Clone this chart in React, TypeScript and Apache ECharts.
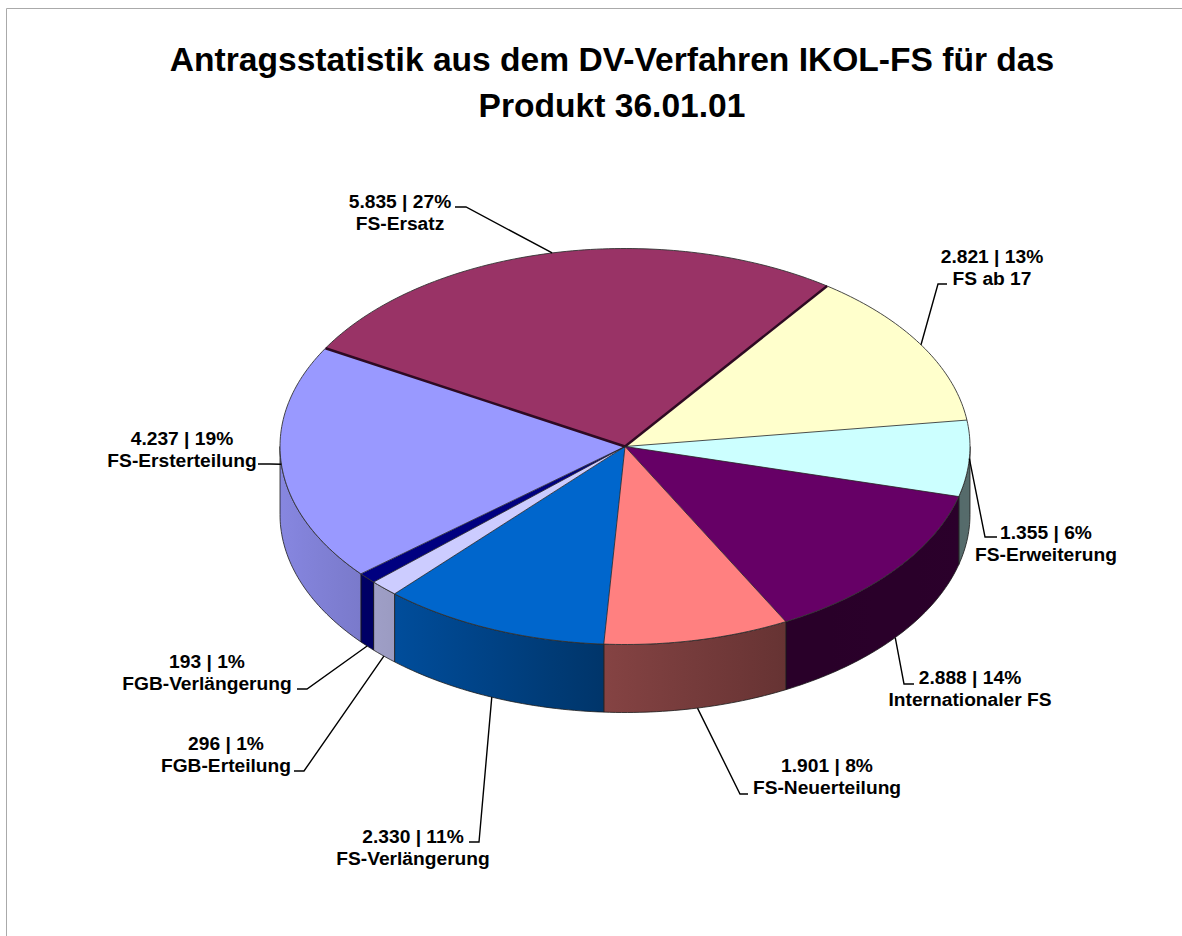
import React, { useEffect, useRef } from "react";
import * as echarts from "echarts";

const titleLines = ["Antragsstatistik aus dem DV-Verfahren IKOL-FS für das", "Produkt 36.01.01"];
const categories = ["FS-Ersatz", "FS ab 17", "FS-Erweiterung", "Internationaler FS", "FS-Neuerteilung", "FS-Verlängerung", "FGB-Erteilung", "FGB-Verlängerung", "FS-Ersterteilung"];
const counts = [5835, 2821, 1355, 2888, 1901, 2330, 296, 193, 4237];
const countLabels = ["5.835", "2.821", "1.355", "2.888", "1.901", "2.330", "296", "193", "4.237"];
const percentLabels = ["27%", "13%", "6%", "14%", "8%", "11%", "1%", "1%", "19%"];

const sliceColors = [[0x99, 0x33, 0x66], [0xff, 0xff, 0xcc], [0xcc, 0xff, 0xff], [0x66, 0x00, 0x66], [0xff, 0x80, 0x80], [0x00, 0x66, 0xcc], [0xcc, 0xcc, 0xff], [0x00, 0x00, 0x80], [0x99, 0x99, 0xff]];
const radialWidths = [2.4, 0.8, 0.8, 0.8, 0.8, 0.8, 0.8, 0.8, 0.8];

// leader elbow [x, y], elbow end [x, y]; label centre [x, y]
const elbows = [[466, 207, 455, 207], [938, 284, 947, 284], [985, 537, 997, 537], [904, 684, 914, 684], [740, 794, 748, 794], [479, 842, 469, 842], [304, 771, 294, 771], [307, 689, 297, 689], [270, 464, 258, 464]];
const labelCentres = [[400, 212], [992, 267], [1046, 543], [970, 688], [827, 776], [413, 847], [226, 754], [207, 672], [182, 449]];

const CX = 625, CY = 446.5, RX = 345, RY = 198, DEPTH = 68, START = -60.25;
const total = counts.reduce((a, b) => a + b, 0);
const rad = (d: number) => (d * Math.PI) / 180;
const pt = (deg: number, dy = 0) => [CX + RX * Math.sin(rad(deg)), CY - RY * Math.cos(rad(deg)) + dy];

function sliceRange(i: number) {
  let sum = 0;
  for (let k = 0; k < i; k++) sum += counts[k];
  return [START + (sum / total) * 360, START + ((sum + counts[i]) / total) * 360];
}
function arc(a0: number, a1: number, dy = 0) {
  const pts: number[][] = [];
  const n = Math.max(2, Math.ceil(Math.abs(a1 - a0)));
  for (let k = 0; k <= n; k++) pts.push(pt(a0 + ((a1 - a0) * k) / n, dy));
  return pts;
}
const shadeStops = [[280, 0.88], [393, 0.76], [605, 0.52], [785, 0.4], [970, 0.42]];
function shade(x: number) {
  for (let k = 1; k < shadeStops.length; k++) {
    if (x <= shadeStops[k][0]) {
      const [x0, s0] = shadeStops[k - 1], [x1, s1] = shadeStops[k];
      return s0 + ((s1 - s0) * Math.max(0, x - x0)) / (x1 - x0);
    }
  }
  return shadeStops[shadeStops.length - 1][1];
}

const FONT = '"Liberation Sans", Arial, sans-serif';

export default function App() {
  const ref = useRef<HTMLDivElement>(null);
  useEffect(() => {
    const chart = echarts.init(ref.current!, undefined, { renderer: "svg" });
    const data = counts.map((v, i) => [v, i]);
    chart.setOption({
      animation: false,
      backgroundColor: "#ffffff",
      title: {
        text: titleLines.join("\n"),
        left: 607,
        top: 31,
        textAlign: "center",
        textStyle: { fontFamily: FONT, fontSize: 33.6, fontWeight: "bold", color: "#000", lineHeight: 46 },
      },
      graphic: [
        { type: "polyline", silent: true, shape: { points: [[6.5, 936], [6.5, 8.5], [1182, 8.5]] }, style: { fill: "none", stroke: "#aaaaaa", lineWidth: 1 } },
      ],
      series: [
        {
          type: "custom", coordinateSystem: "none", silent: true, data, z: 2,
          renderItem: (_p: any, api: any) => {
            const i = api.value(1);
            const [a0, a1] = sliceRange(i);
            const s = Math.max(a0, 90), e = Math.min(a1, 270);
            if (e <= s) return { type: "group", children: [] };
            const points = [...arc(s, e), ...arc(e, s, DEPTH)];
            const xs = points.map((p) => p[0]);
            const x0 = Math.min(...xs), x1 = Math.max(...xs);
            const c = sliceColors[i];
            const colorStops = [0, 0.25, 0.5, 0.75, 1].map((o) => {
              const f = shade(x0 + (x1 - x0) * o);
              return { offset: o, color: `rgb(${c.map((v) => Math.round(v * f)).join(",")})` };
            });
            return {
              type: "polygon",
              shape: { points },
              style: { fill: new echarts.graphic.LinearGradient(0, 0, 1, 0, colorStops), stroke: "#1a1a1a", lineWidth: 0.8 },
            };
          },
        },
        {
          type: "custom", coordinateSystem: "none", silent: true, data, z: 3,
          renderItem: (_p: any, api: any) => {
            const i = api.value(1);
            const [a0, a1] = sliceRange(i);
            const c = sliceColors[i];
            return {
              type: "group",
              children: [
                { type: "polygon", shape: { points: [[CX, CY], ...arc(a0, a1)] }, style: { fill: `rgb(${c.join(",")})`, stroke: "none" } },
                { type: "polyline", shape: { points: arc(a0, a1) }, style: { fill: "none", stroke: "#333333", lineWidth: 0.9 } },
              ],
            };
          },
        },
        {
          type: "custom", coordinateSystem: "none", silent: true, data, z: 4,
          renderItem: (_p: any, api: any) => {
            const i = api.value(1);
            const [a0] = sliceRange(i);
            const prev = (i + counts.length - 1) % counts.length;
            const w = Math.max(radialWidths[i], radialWidths[prev]);
            return {
              type: "polyline",
              shape: { points: [[CX, CY], pt(a0)] },
              style: { fill: "none", stroke: w > 1 ? "#2e0a22" : "#222222", lineWidth: w },
            };
          },
        },
        {
          type: "custom", coordinateSystem: "none", silent: true, data, z: 5,
          renderItem: (_p: any, api: any) => {
            const i = api.value(1);
            const [a0, a1] = sliceRange(i);
            const mid = (a0 + a1) / 2;
            const lowered = Math.cos(rad(mid)) < -0.1;
            const [ex, ey, fx, fy] = elbows[i];
            const [lx, ly] = labelCentres[i];
            return {
              type: "group",
              children: [
                { type: "polyline", shape: { points: [pt(mid, lowered ? DEPTH : 0), [ex, ey], [fx, fy]] }, style: { fill: "none", stroke: "#000", lineWidth: 1.4 } },
                {
                  type: "text",
                  style: {
                    text: `${countLabels[i]} | ${percentLabels[i]}\n${categories[i]}`,
                    x: lx, y: ly, align: "center", verticalAlign: "middle",
                    fontFamily: FONT, fontSize: 19.2, fontWeight: "bold", lineHeight: 22, fill: "#000",
                  },
                },
              ],
            };
          },
        },
      ],
    });
    return () => chart.dispose();
  }, []);
  return <div ref={ref} style={{ position: "fixed", left: 0, top: 0, width: 1182, height: 936 }} />;
}
